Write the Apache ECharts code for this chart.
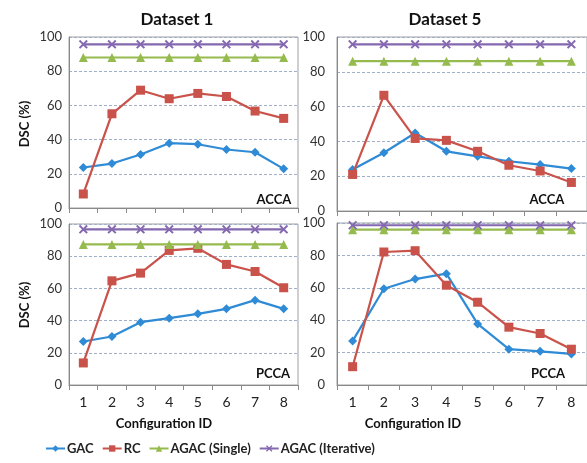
<!DOCTYPE html>
<html><head><meta charset="utf-8">
<script src="https://cdn.jsdelivr.net/npm/echarts@6/dist/echarts.min.js"></script>
<style>html,body{margin:0;padding:0;background:#fff}#c{width:587px;height:463px}</style>
</head><body><div id="c"></div>
<script>
const categories = ['1','2','3','4','5','6','7','8'];
const seriesNames = ['GAC','RC','AGAC (Single)','AGAC (Iterative)'];
const yTicks = [0,20,40,60,80,100];
// Dataset 1, ACCA
const d1AccaGAC = [23.7,26,31.3,37.9,37.3,34.2,32.6,22.9];
const d1AccaRC = [8.2,55.1,68.9,63.9,67,65.2,56.7,52.4];
const d1AccaSingle = [88,88,88,88,88,88,88,88];
const d1AccaIter = [95.7,95.7,95.7,95.7,95.7,95.7,95.7,95.7];
// Dataset 5, ACCA
const d5AccaGAC = [23.8,33.5,44.8,34.3,31.4,28.6,26.7,24.4];
const d5AccaRC = [21,66.5,41.7,40.6,34.3,26.3,23,16.4];
const d5AccaSingle = [86.1,86.1,86.1,86.1,86.1,86.1,86.1,86.1];
const d5AccaIter = [95.8,95.8,95.8,95.8,95.8,95.8,95.8,95.8];
// Dataset 1, PCCA
const d1PccaGAC = [27,30.1,39,41.5,44.2,47.3,52.7,47.3];
const d1PccaRC = [13.7,64.7,69.5,83.6,84.9,74.9,70.5,60.4];
const d1PccaSingle = [87.3,87.3,87.3,87.3,87.3,87.3,87.3,87.3];
const d1PccaIter = [96.7,96.7,96.7,96.7,96.7,96.7,96.7,96.7];
// Dataset 5, PCCA
const d5PccaGAC = [27.2,59.4,65.4,68.7,37.7,22.1,20.8,19.2];
const d5PccaRC = [11.3,82.1,82.9,61.6,51.1,35.7,31.8,22.1];
const d5PccaSingle = [95.9,95.9,95.9,95.9,95.9,95.9,95.9,95.9];
const d5PccaIter = [98.6,98.6,98.6,98.6,98.6,98.6,98.6,98.6];

const panels = [
  [d1AccaGAC,d1AccaRC,d1AccaSingle,d1AccaIter],
  [d5AccaGAC,d5AccaRC,d5AccaSingle,d5AccaIter],
  [d1PccaGAC,d1PccaRC,d1PccaSingle,d1PccaIter],
  [d5PccaGAC,d5PccaRC,d5PccaSingle,d5PccaIter]
];
const colors = ['#2f8bd6','#c9524a','#95bb4f','#8468b0'];
const xPath = 'path://M0,1.5L1.5,0L5,3.5L8.5,0L10,1.5L6.5,5L10,8.5L8.5,10L5,6.5L1.5,10L0,8.5L3.5,5Z';
const symbols = ['diamond','rect','triangle',xPath];
const symSizes = [9,9,9,9];
const FONT = 'Lato, "Open Sans", sans-serif';

const grids = [
  {left:69, top:37, width:229, height:171},
  {left:337, top:37, width:254, height:174},
  {left:69, top:224, width:229, height:161},
  {left:337, top:223, width:254, height:162}
].map(g => Object.assign({show:true, borderColor:'#a0a0a0', borderWidth:1, backgroundColor:'#fff'}, g));

const xAxes = grids.map((g,i) => ({
  type:'category', gridIndex:i, data:categories, boundaryGap:true,
  axisLine:{show:true, lineStyle:{color:'#8a8a8a'}},
  axisTick:{show:true, alignWithLabel:false, length:5, lineStyle:{color:'#8a8a8a'}},
  axisLabel:{show:i>=2, color:'#222', fontSize:14, fontFamily:FONT, margin:10}
}));
const yAxes = grids.map((g,i) => ({
  type:'value', gridIndex:i, min:0, max:100, interval:20,
  axisLine:{show:true, lineStyle:{color:'#8a8a8a'}},
  axisTick:{show:false},
  axisLabel:{color:'#333', fontSize:13, fontFamily:FONT, margin:(i%2===0)?7:12},
  splitLine:{show:true, lineStyle:{color:'#9fb0c8', type:[3,2], width:1}}
}));

const series = [];
panels.forEach((p,pi) => {
  p.forEach((vals,si) => {
    series.push({
      name:seriesNames[si], type:'line', xAxisIndex:pi, yAxisIndex:pi,
      data:vals, symbol:symbols[si], symbolSize:symSizes[si],
      lineStyle:{color:colors[si], width:2.2},
      itemStyle:{color:colors[si]},
      emphasis:{disabled:true}, animation:false, z:2+si
    });
  });
});

function txt(x,y,text,size,rot){
  return {type:'text', x:x, y:y, rotation:rot||0, style:{text:text, fill:'#111', font:'bold '+size+'px '+FONT, textAlign:'center', textVerticalAlign:'middle'}};
}
const graphics = [
  txt(177,20,'Dataset 1',17), txt(445,20,'Dataset 5',17),
  txt(25,124,'DSC (%)',13,Math.PI/2), txt(25,305,'DSC (%)',13,Math.PI/2),
  txt(164,424,'Configuration ID',13), txt(413,424,'Configuration ID',13),
  txt(274,200,'ACCA',13), txt(547,200,'ACCA',13),
  txt(273,374,'PCCA',13), txt(548,374,'PCCA',13)
];

const chart = echarts.init(document.getElementById('c'), null, {renderer:'canvas'});
chart.setOption({
  backgroundColor:'#fff', animation:false,
  grid:grids, xAxis:xAxes, yAxis:yAxes, series:series,
  legend:{data:seriesNames, left:40, top:437, itemWidth:19, itemHeight:8, itemGap:8,
    textStyle:{color:'#222', fontSize:13, fontWeight:'bold', fontFamily:FONT, padding:[0,0,0,-3]}},
  graphic:graphics
});
</script></body></html>
